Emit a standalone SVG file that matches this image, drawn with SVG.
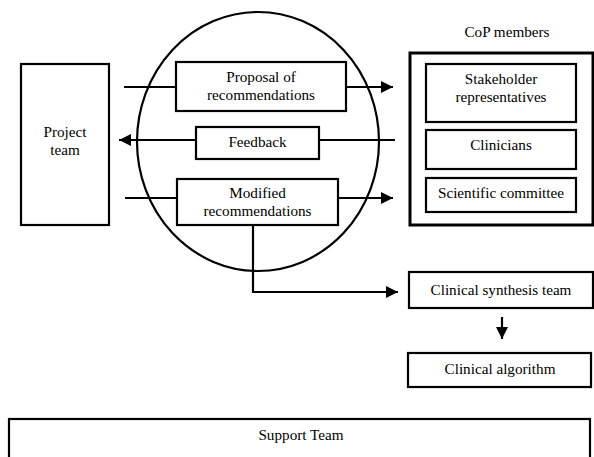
<svg xmlns="http://www.w3.org/2000/svg" width="594" height="457" viewBox="0 0 594 457">
<style>
.box{fill:#fff;stroke:#000;stroke-width:2.2}
.outer{fill:#fff;stroke:#000;stroke-width:3}
.ln{fill:none;stroke:#000;stroke-width:2.2}
text{font-family:'Liberation Serif','DejaVu Serif',serif;font-size:15.2px;fill:#000;text-anchor:middle}
</style>
<defs>
<marker id="ah" markerUnits="userSpaceOnUse" markerWidth="12" markerHeight="12" viewBox="0 0 12 12" refX="12" refY="6" orient="auto">
<path d="M0,0 L12,6 L0,12 Z" fill="#000"/>
</marker>
</defs>
<rect x="0" y="0" width="594" height="457" fill="#fff"/>
<g id="circle">
<ellipse cx="258" cy="141.5" rx="121" ry="129.5" fill="none" stroke="#000" stroke-width="2.2"/>
</g>
<g id="connectors">
<line class="ln" x1="124" y1="87" x2="177" y2="87"/>
<line class="ln" x1="346" y1="87" x2="393" y2="87" marker-end="url(#ah)"/>
<line class="ln" x1="395" y1="140" x2="319" y2="140"/>
<line class="ln" x1="196" y1="140" x2="119" y2="140" marker-end="url(#ah)"/>
<line class="ln" x1="125" y1="198" x2="177" y2="198"/>
<line class="ln" x1="338" y1="198" x2="393" y2="198" marker-end="url(#ah)"/>
<polyline class="ln" points="253,225 253,292 398,292" marker-end="url(#ah)"/>
<line class="ln" x1="502" y1="317" x2="502" y2="339" marker-end="url(#ah)"/>
</g>
<g id="project-team">
<rect class="box" x="21" y="64" width="88" height="161"/>
<text x="65" y="137">Project</text>
<text x="65" y="155">team</text>
</g>
<g id="proposal">
<rect class="box" x="176" y="62" width="170" height="49"/>
<text x="261" y="82">Proposal of</text>
<text x="261" y="100">recommendations</text>
</g>
<g id="feedback">
<rect class="box" x="196" y="127" width="123" height="32"/>
<text x="257.5" y="147">Feedback</text>
</g>
<g id="modified">
<rect class="box" x="177" y="179" width="161" height="46"/>
<text x="257.5" y="198">Modified</text>
<text x="257.5" y="216">recommendations</text>
</g>
<g id="cop-members">
<text x="507" y="37">CoP members</text>
<rect class="outer" x="410" y="53" width="183" height="172"/>
</g>
<g id="stakeholder">
<rect class="box" x="426" y="64" width="150" height="58"/>
<text x="501" y="84">Stakeholder</text>
<text x="501" y="102">representatives</text>
</g>
<g id="clinicians">
<rect class="box" x="426" y="130" width="150" height="39"/>
<text x="501" y="150">Clinicians</text>
</g>
<g id="scientific">
<rect class="box" x="426" y="178" width="150" height="34"/>
<text x="501" y="198">Scientific committee</text>
</g>
<g id="clinical-synthesis">
<rect class="box" x="409" y="272" width="184" height="36"/>
<text x="501" y="295">Clinical synthesis team</text>
</g>
<g id="clinical-algorithm">
<rect class="box" x="408" y="353" width="183" height="34"/>
<text x="500" y="374">Clinical algorithm</text>
</g>
<g id="support-team">
<rect class="box" x="9" y="419" width="581" height="50"/>
<text x="301" y="440">Support Team</text>
</g>
</svg>
